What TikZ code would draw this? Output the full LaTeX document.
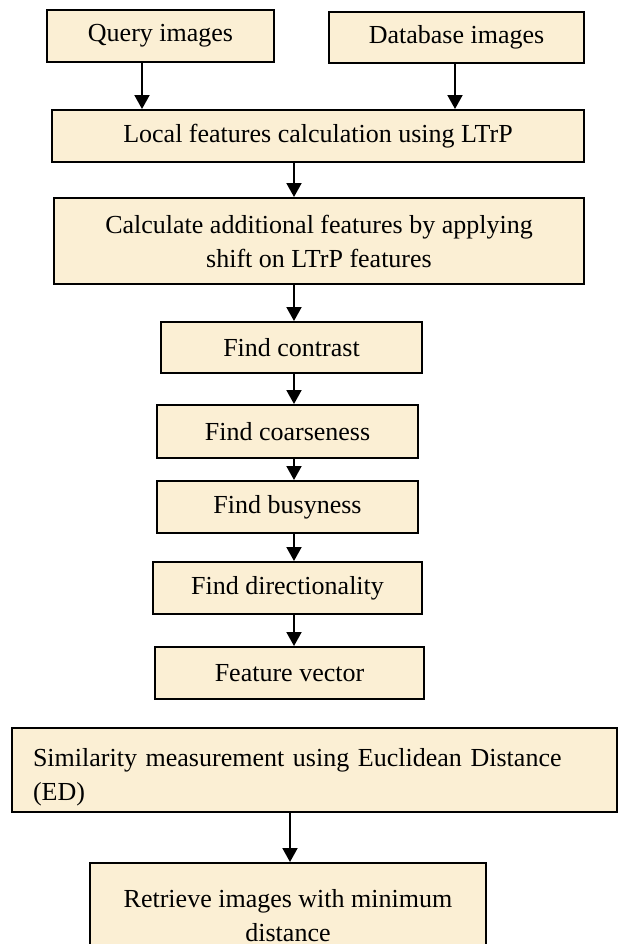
\documentclass[tikz,border=0pt]{standalone}
\usepackage{fontspec}
\setmainfont{Liberation Serif}
\usetikzlibrary{arrows.meta}
\definecolor{boxfill}{HTML}{FBEFD4}

\begin{document}
\begin{tikzpicture}[x=0.5pt,y=-0.5pt,
  box/.style={draw,line width=1pt,fill=boxfill,inner sep=0pt,
    font=\fontsize{13}{17}\selectfont,align=center},
  flow/.style={line width=1pt,-{Triangle[length=7pt,width=7.5pt]}}]
  \fill[white] (0,0) rectangle (617,944);
  \useasboundingbox (0,0) rectangle (617,944);

  % input images
  \node[box,minimum width=113.5pt,minimum height=26pt] (query) at (160.5,36) {Query images};
  \node[box,minimum width=127.5pt,minimum height=25.5pt] (database) at (456.5,37.5) {Database images};

  % feature extraction
  \node[box,minimum width=266pt,minimum height=26pt] (local) at (318,136) {Local features calculation using LTrP};
  \node[box,minimum width=265pt,minimum height=43pt] (calc) at (319,241)
    {Calculate additional features by applying\\shift on LTrP features};
  \node[box,minimum width=130.5pt,minimum height=25.5pt] (contrast) at (291.5,347.5) {Find contrast};
  \node[box,minimum width=130.5pt,minimum height=26.5pt] (coarse) at (287.5,431.5) {Find coarseness};
  \node[box,minimum width=130.5pt,minimum height=26pt] (busy) at (287.5,507) {Find busyness};
  \node[box,minimum width=134.5pt,minimum height=26pt] (direction) at (287.5,588) {Find directionality};
  \node[box,minimum width=134.5pt,minimum height=26pt] (fvec) at (289.5,673) {Feature vector};

  % matching
  \node[box,align=left,inner xsep=10.5pt,text width=281.5pt,text height=16pt,minimum height=42pt] (simil) at (314.5,770)
    {Similarity measurement using Euclidean Distance\\(ED)};
  \node[box,minimum width=198pt,minimum height=52.5pt] (retrieve) at (288,915.5)
    {Retrieve images with minimum\\distance};

  % arrow lines
  \coordinate (qline) at (142,0);
  \coordinate (dline) at (455,0);
  \coordinate (spine) at (294,0);
  \coordinate (lowline) at (290,0);

  \draw[flow] (query.south -| qline) -- (local.north -| qline);
  \draw[flow] (database.south -| dline) -- (local.north -| dline);
  \draw[flow] (local.south -| spine) -- (calc.north -| spine);
  \draw[flow] (calc.south -| spine) -- (contrast.north -| spine);
  \draw[flow] (contrast.south -| spine) -- (coarse.north -| spine);
  \draw[flow] (coarse.south -| spine) -- (busy.north -| spine);
  \draw[flow] (busy.south -| spine) -- (direction.north -| spine);
  \draw[flow] (direction.south -| spine) -- (fvec.north -| spine);
  \draw[flow] (simil.south -| lowline) -- (retrieve.north -| lowline);
\end{tikzpicture}
\end{document}
